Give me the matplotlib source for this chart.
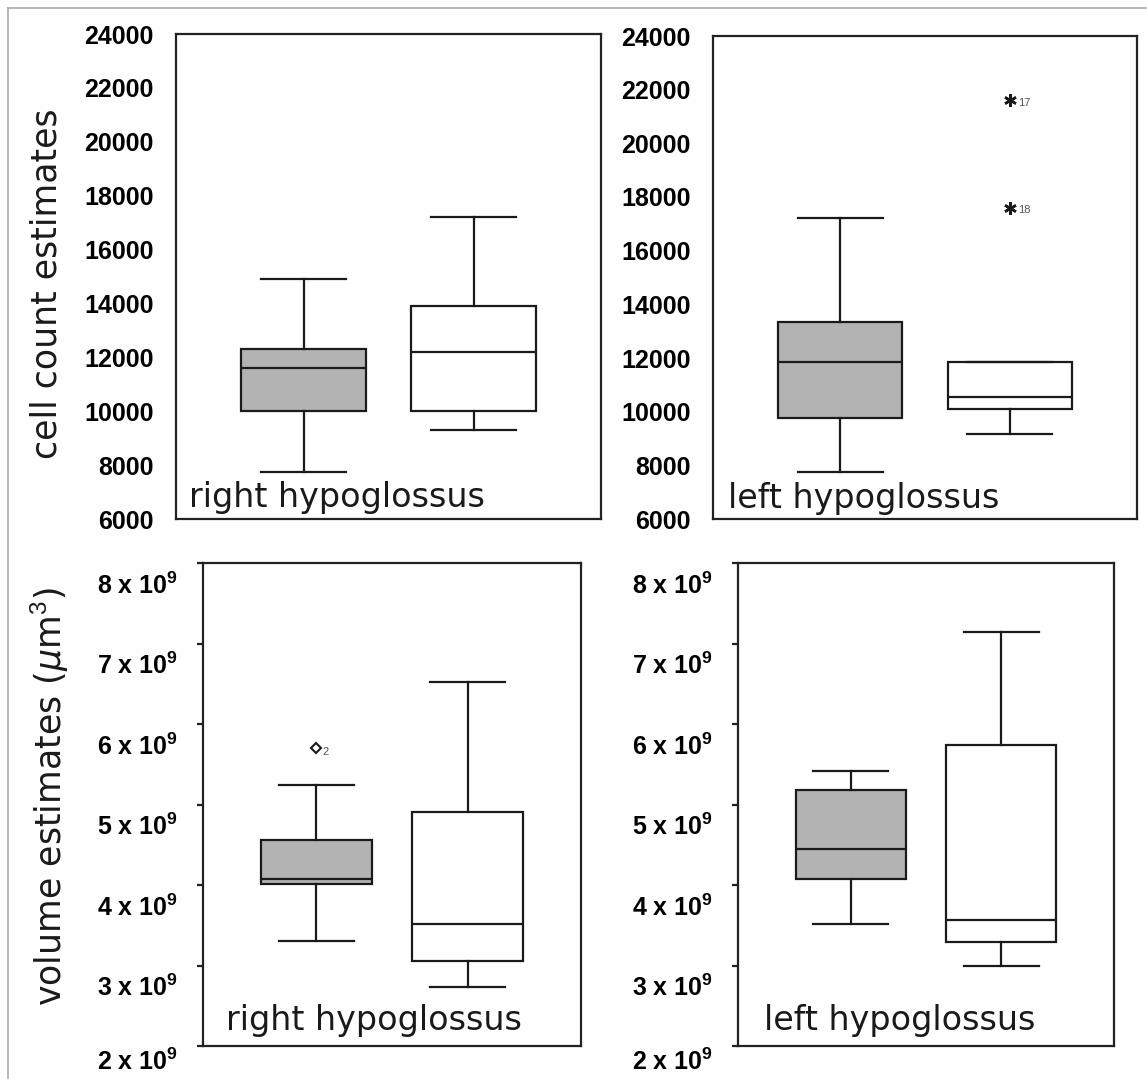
import matplotlib
matplotlib.use("Agg")
import matplotlib.pyplot as plt
from matplotlib.lines import Line2D
from matplotlib.transforms import ScaledTranslation

plt.rcParams['mathtext.fontset'] = 'custom'
plt.rcParams['mathtext.rm'] = 'Liberation Sans'
plt.rcParams['mathtext.bf'] = 'Liberation Sans:bold'
plt.rcParams['mathtext.it'] = 'DejaVu Sans:italic'

# five-number summaries: whisker low, q1, median, q3, whisker high
count_right_grey = [7750, 10000, 11600, 12300, 14900]
count_right_white = [9300, 10000, 12200, 13900, 17200]
count_left_grey = [7750, 9750, 11850, 13350, 17200]
count_left_white = [9150, 10100, 10550, 11850, 11850]
count_left_white_outliers = [21600, 17600]
count_left_white_outlier_ids = ["17", "18"]

vol_right_grey = [3.31e9, 4.01e9, 4.07e9, 4.56e9, 5.24e9]
vol_right_grey_outliers = [5.70e9]
vol_right_grey_outlier_ids = ["2"]
vol_right_white = [2.73e9, 3.06e9, 3.51e9, 4.91e9, 6.52e9]
vol_left_grey = [3.52e9, 4.07e9, 4.45e9, 5.18e9, 5.41e9]
vol_left_white = [2.99e9, 3.29e9, 3.57e9, 5.74e9, 7.14e9]

count_ticks = list(range(6000, 24001, 2000))
vol_ticks = [2e9, 3e9, 4e9, 5e9, 6e9, 7e9, 8e9]
vol_ticklabels = [r"%d x 10$^{\mathbf{9}}$" % (v / 1e9) for v in vol_ticks]

W, H = 1147, 1079
fig = plt.figure(figsize=(W / 100, H / 100), dpi=100)

EDGE = "#1a1a1a"
GREY = "#b3b3b3"


def px_axes(x0, y0, x1, y1):
    return fig.add_axes([x0 / W, 1 - y1 / H, (x1 - x0) / W, (y1 - y0) / H])


def stats(five, fliers=()):
    lo, q1, med, q3, hi = five
    return dict(whislo=lo, q1=q1, med=med, q3=q3, whishi=hi, fliers=list(fliers))


def draw_panel(ax, grey, white, grey_fl=(), white_fl=(), flier_marker="*"):
    fp = dict(marker=flier_marker, markersize=9, markeredgecolor=EDGE,
              markerfacecolor=EDGE if flier_marker != "D" else "white",
              markeredgewidth=1.8, linestyle="none")
    if flier_marker == "D":
        fp["markersize"] = 5
        fp["markeredgewidth"] = 1.5
    for pos, five, fl, col in [(1, grey, grey_fl, GREY), (2, white, white_fl, "white")]:
        ax.bxp([stats(five, fl)], positions=[pos], widths=0.73, capwidths=0.5,
               patch_artist=True, showfliers=True,
               boxprops=dict(facecolor=col, edgecolor=EDGE, linewidth=1.6),
               medianprops=dict(color=EDGE, linewidth=1.6),
               whiskerprops=dict(color=EDGE, linewidth=1.6),
               capprops=dict(color=EDGE, linewidth=1.6),
               flierprops=fp)
    ax.set_xlim(0.25, 2.75)
    ax.set_xticks([])
    for s in ax.spines.values():
        s.set_linewidth(1.6)
        s.set_color("#222222")


tick_font = dict(family="Liberation Sans", weight="bold", size=18)

# top row: cell counts
ax_tl = px_axes(176, 34, 601, 519)
draw_panel(ax_tl, count_right_grey, count_right_white)
ax_tr = px_axes(713, 36, 1137, 519)
draw_panel(ax_tr, count_left_grey, count_left_white, white_fl=count_left_white_outliers,
           flier_marker=(6, 2, 0))
for v, lab in zip(count_left_white_outliers, count_left_white_outlier_ids):
    ax_tr.annotate(lab, (2, v), xytext=(6, -4), textcoords="offset points",
                   fontsize=8, color="#555555", family="Liberation Sans")

for ax in (ax_tl, ax_tr):
    ax.set_ylim(6000, 24000)
    ax.set_yticks(count_ticks)
    ax.set_yticklabels([str(t) for t in count_ticks], fontdict=tick_font)
    ax.tick_params(axis="y", length=0, pad=16)

# bottom row: volumes
ax_bl = px_axes(203, 563, 581, 1046)
draw_panel(ax_bl, vol_right_grey, vol_right_white, grey_fl=vol_right_grey_outliers,
           flier_marker="D")
for v, lab in zip(vol_right_grey_outliers, vol_right_grey_outlier_ids):
    ax_bl.annotate(lab, (1, v), xytext=(4, -5), textcoords="offset points",
                   fontsize=8, color="#555555", family="Liberation Sans")
ax_br = px_axes(738, 563, 1114, 1046)
draw_panel(ax_br, vol_left_grey, vol_left_white)

for ax in (ax_bl, ax_br):
    ax.set_ylim(2e9, 8e9)
    ax.set_yticks(vol_ticks)
    ax.set_yticklabels(vol_ticklabels, fontdict=tick_font)
    ax.tick_params(axis="y", length=4, width=1.6, pad=14, color="#222222")
    labs = ax.get_yticklabels()
    for i, lab in enumerate(labs):
        shift = -0.13 if i == 0 else -0.2
        lab.set_transform(lab.get_transform() + ScaledTranslation(0, shift, fig.dpi_scale_trans))

# panel names
label_font = dict(family="DejaVu Sans", size=24, color="#1a1a1a")
ax_tl.text(0.03, 0.025, "right hypoglossus", transform=ax_tl.transAxes, va="baseline", **label_font)
ax_tr.text(0.035, 0.022, "left hypoglossus", transform=ax_tr.transAxes, va="baseline", **label_font)
ax_bl.text(0.061, 0.033, "right hypoglossus", transform=ax_bl.transAxes, va="baseline", **label_font)
ax_br.text(0.069, 0.033, "left hypoglossus", transform=ax_br.transAxes, va="baseline", **label_font)

# y axis titles
fig.text(47 / W, 1 - 284 / H, "cell count estimates", rotation=90, ha="center", va="center",
         family="DejaVu Sans", size=25, color="#1a1a1a")
fig.text(50 / W, 1 - 797 / H, r"volume estimates ($\mu$m$^3$)", rotation=90, ha="center",
         va="center", family="DejaVu Sans", size=25, color="#1a1a1a")

# thin frame of the original figure
fig.add_artist(Line2D([8 / W, 1], [1 - 8 / H, 1 - 8 / H], color="#aaaaaa", linewidth=1.2))
fig.add_artist(Line2D([8 / W, 8 / W], [0, 1 - 8 / H], color="#aaaaaa", linewidth=1.2))

fig.savefig("out.png", dpi=100)
